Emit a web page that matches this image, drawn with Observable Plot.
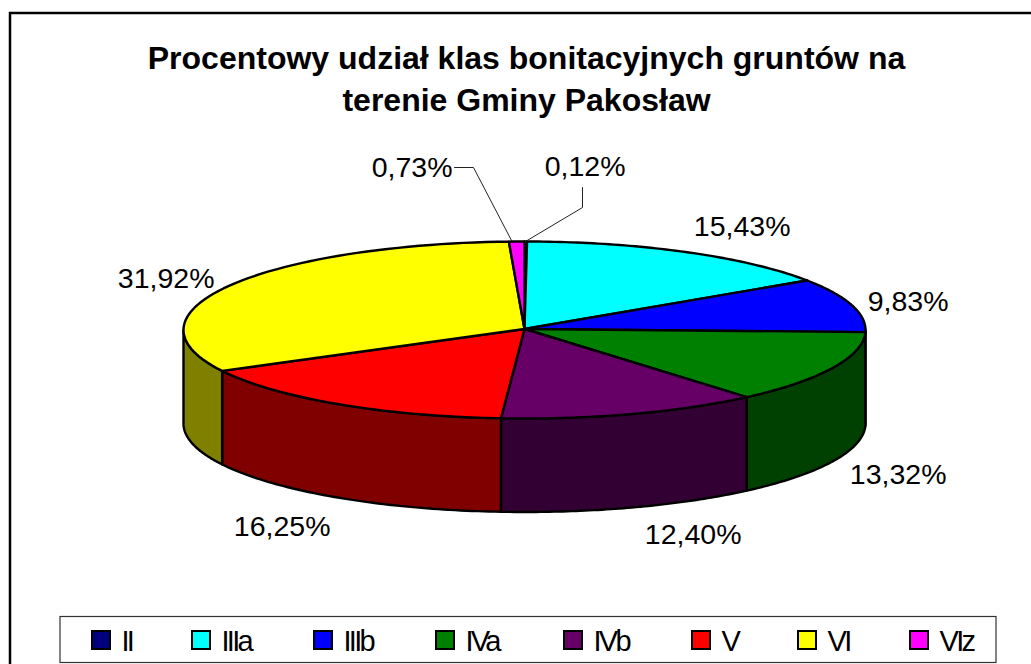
<!DOCTYPE html>
<html><head><meta charset="utf-8">
<script src="https://cdn.jsdelivr.net/npm/d3@7"></script>
<script src="https://cdn.jsdelivr.net/npm/@observablehq/plot@0.6"></script>
<style>html,body{margin:0;padding:0;background:#fff}svg{display:block}</style>
</head><body><div id="chart"></div>
<script>
const classes = ["II","IIIa","IIIb","IVa","IVb","V","VI","VIz"];
const shares = [0.12,15.43,9.83,13.32,12.40,16.25,31.92,0.73];
const shareLabels = ["0,12%","15,43%","9,83%","13,32%","12,40%","16,25%","31,92%","0,73%"];
const topColors = ["#000080","#00ffff","#0000ff","#008000","#660066","#ff0000","#ffff00","#ff00ff"];
const sideColors = ["#000040","#008080","#000080","#004000","#330033","#800000","#808000","#800080"];
const titleLines = ["Procentowy udział klas bonitacyjnych gruntów na","terenie Gminy Pakosław"];

// layout
const cx = 524, cy = 329.5, rx = 341, ry = 88.5, depth = 93.5;
const labelX = [625,790,948,946,741,330,214,452];
const labelY = [175,235,310.5,483.5,543,535.5,287,176];
const legendX = [92,192,314,436,564,692,798,910];

const total = d3.sum(shares);
const rim = (a, dy = 0) => [cx + rx*Math.sin(a), cy - ry*Math.cos(a) + dy];
const tops = [], sides = [];
let acc = 0;
classes.forEach((c,i) => {
  const a0 = acc/total*2*Math.PI; acc += shares[i];
  const a1 = acc/total*2*Math.PI;
  const arc = (s,e,dy) => d3.range(0,61).map(k => rim(s+(e-s)*k/60,dy));
  const tp = [[cx,cy-1],...arc(a0,a1,0),[cx,cy-1]];
  tp.forEach(p => tops.push({x:p[0],y:p[1],c}));
  const s = Math.max(a0,Math.PI/2), e = Math.min(a1,3*Math.PI/2);
  if (e > s) {
    const sp = [...arc(s,e,0),...arc(s,e,depth).reverse()];
    sp.push(sp[0]);
    sp.forEach(p => sides.push({x:p[0],y:p[1],c}));
  }
});
const colorOf = Object.fromEntries(classes.map((c,i)=>[c,topColors[i]]));
const sideOf = Object.fromEntries(classes.map((c,i)=>[c,sideColors[i]]));

const leaders = [
  {k:"a",x:454,y:167},{k:"a",x:473,y:167},{k:"a",x:511,y:240},
  {k:"b",x:582,y:187},{k:"b",x:582,y:207},{k:"b",x:525,y:241}
];
const labels = classes.map((c,i)=>({t:shareLabels[i],x:labelX[i],y:labelY[i]}));
const legend = classes.map((c,i)=>({c,x:legendX[i]}));
const sans = "Liberation Sans, Arial, sans-serif";

const plot = Plot.plot({
  width:1031,height:664,margin:0,
  style:{background:"#fff",fontFamily:sans},
  x:{domain:[0,1031],range:[0,1031],axis:null},
  y:{domain:[0,664],range:[0,664],axis:null},
  marks:[
    Plot.rect([0],{x1:()=>10,x2:()=>1100,y1:()=>13,y2:()=>720,fill:"#fff",stroke:"#000",strokeWidth:2.5}),
    Plot.line(sides,{x:"x",y:"y",z:"c",fill:d=>sideOf[d.c],stroke:"#000",strokeWidth:2.4,strokeLinejoin:"round"}),
    Plot.line(tops,{x:"x",y:"y",z:"c",fill:d=>colorOf[d.c],stroke:"#000",strokeWidth:2.4,strokeLinejoin:"round"}),
    Plot.line(leaders,{x:"x",y:"y",z:"k",stroke:"#222",strokeWidth:1}),
    Plot.text(labels,{x:"x",y:"y",text:"t",textAnchor:"end",lineAnchor:"bottom",fontSize:28.5,fill:"#000"}),
    Plot.text(titleLines,{x:()=>526,y:(d,i)=>[68,110][i],text:d=>d,lineAnchor:"bottom",fontSize:32,fontWeight:"bold",fill:"#000"}),
    Plot.rect([0],{x1:()=>60,x2:()=>996,y1:()=>616.5,y2:()=>662.5,fill:"#fff",stroke:"#333",strokeWidth:1.2}),
    Plot.rect(legend,{x1:"x",x2:d=>d.x+18,y1:()=>631,y2:()=>649,fill:d=>colorOf[d.c],stroke:"#000",strokeWidth:2}),
    Plot.text(legend,{x:d=>d.x+29,y:()=>650,text:"c",textAnchor:"start",lineAnchor:"bottom",fontSize:29,fill:"#000"})
  ]
});
d3.select(plot).selectAll("text").filter(function(){return classes.includes(this.textContent);}).style("letter-spacing","-2.7px");
document.getElementById("chart").appendChild(plot);
</script></body></html>
